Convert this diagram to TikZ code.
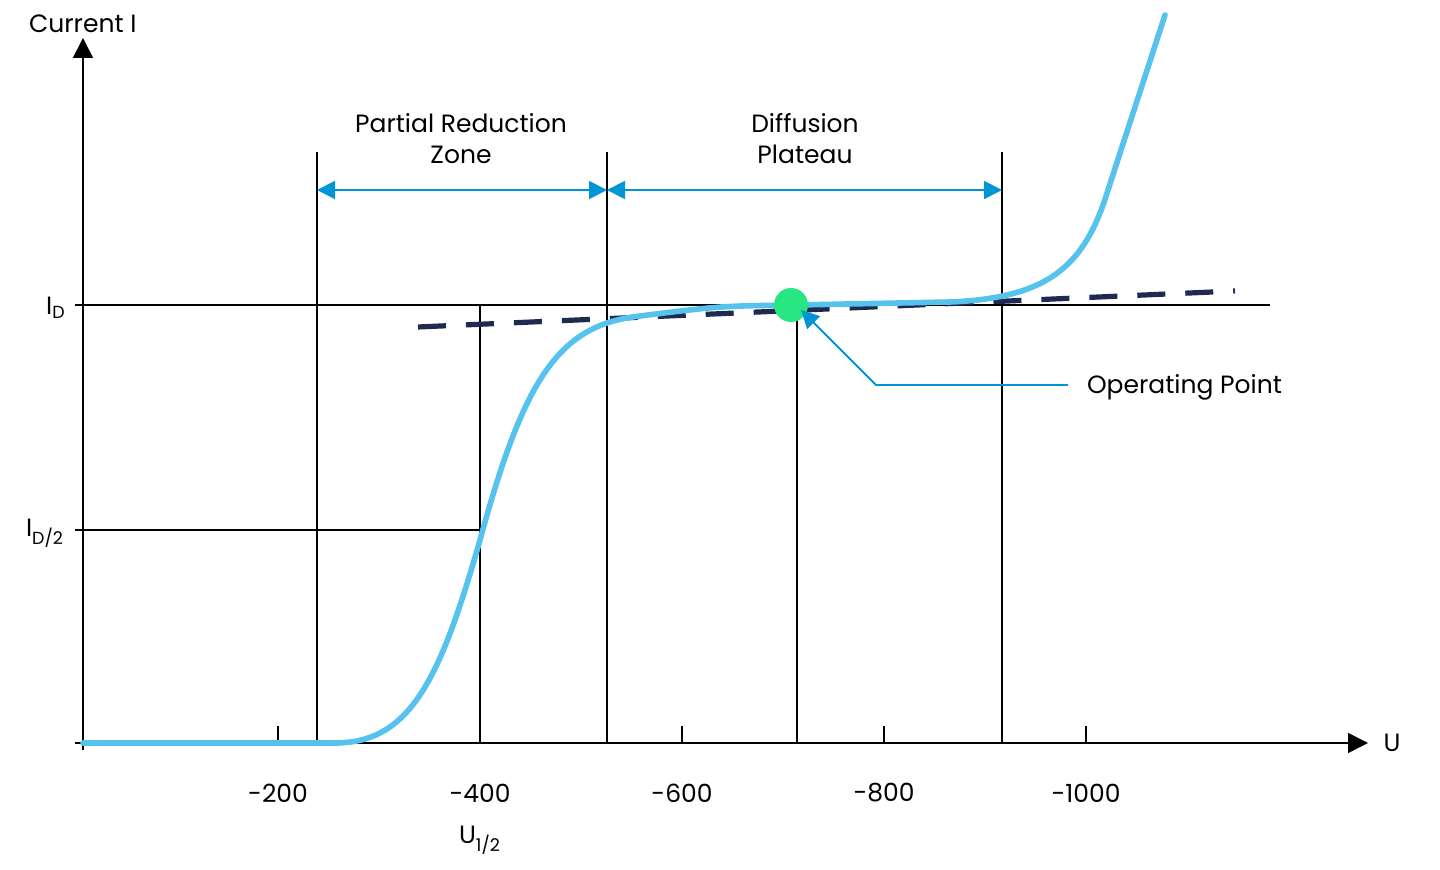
\documentclass[tikz,border=0pt]{standalone}
\usepackage{fontspec}
\setmainfont{Poppins}
\usetikzlibrary{arrows.meta}
\definecolor{curveblue}{RGB}{86,194,238}
\definecolor{arrblue}{RGB}{0,150,214}
\definecolor{navy}{RGB}{30,42,80}
\definecolor{dotgreen}{RGB}{40,230,130}
\begin{document}
\begin{tikzpicture}[x=0.5pt,y=-0.5pt,
  thin line/.style={line width=0.8pt,black},
  lbl/.style={font=\fontsize{12.5}{15.5}\selectfont,align=center},
  dim/.style={arrblue,line width=0.9pt,{Triangle[length=9pt,width=9pt]}-{Triangle[length=9pt,width=9pt]}}]
\useasboundingbox (0,0) rectangle (1440,870);
% axes
\coordinate (ytop) at (83,38);
\coordinate (xl) at (75,743);
\coordinate (xr) at (1368,743);
\draw[thin line,-{Triangle[length=10pt,width=10pt]}] (83,750) -- (ytop);
\draw[thin line,-{Triangle[length=10pt,width=10pt]}] (xl) -- (xr);
\node[lbl,anchor=west] (ylab) at (22,24) {Current I};
\node[lbl] (ulab) at (1392,743) {U};
% ticks
\foreach \x/\t in {278/-200,480/-400,682/-600,884/-800,1086/-1000}{
  \draw[thin line] (\x,726) -- (\x,743);
  \node[lbl] (t\x) at (\x,793) {\t};}
\node[lbl] (uhalf) at (480,840) {U\textsubscript{1/2}};
% horizontal guide lines
\draw[thin line] (75,305) -- (1270,305);
\draw[thin line] (75,530) -- (480,530);
\node[lbl] (id) at (56,308) {I\textsubscript{D}};
\node[lbl] (id2) at (45,533) {I\textsubscript{D/2}};
% vertical lines
\foreach \x in {317,607,1002}{\draw[thin line] (\x,152) -- (\x,743);}
\draw[thin line] (480,305) -- (480,743);
\draw[thin line] (797,305) -- (797,743);
% dimension arrows
\coordinate (a1) at (317,190); \coordinate (a2) at (607,190); \coordinate (a3) at (1002,190);
\draw[dim] (a1) -- (a2);
\draw[dim] (a2) -- (a3);
\node[lbl] (prz) at (461,139) {Partial Reduction\\Zone};
\node[lbl] (dp) at (805,139) {Diffusion\\Plateau};
% dashed tangent
\draw[navy,line width=2.6pt,dash pattern=on 14pt off 10pt] (418,327) -- (1235,291);
% curve
\draw[curveblue,line width=2.8pt,line cap=round]
 (83,743) -- (335,743) .. controls (410,743) and (440,680) .. (480,540)
 .. controls (525,375) and (560,325) .. (640,316)
 .. controls (720,306) .. (797,305) -- (950,302)
 .. controls (1050,298) and (1085,265) .. (1108,190) -- (1165,15);
% operating point
\node[circle,fill=dotgreen,minimum size=17pt,inner sep=0] (op) at (791,305) {};
\node[lbl,anchor=west] (oplab) at (1080,387) {Operating Point};
\coordinate (b1) at (1068,385); \coordinate (b2) at (876,385);
\draw[arrblue,line width=0.9pt,-{Triangle[length=9pt,width=9pt]}] (b1) -- (b2) -- (801,310);
\end{tikzpicture}
\end{document}
